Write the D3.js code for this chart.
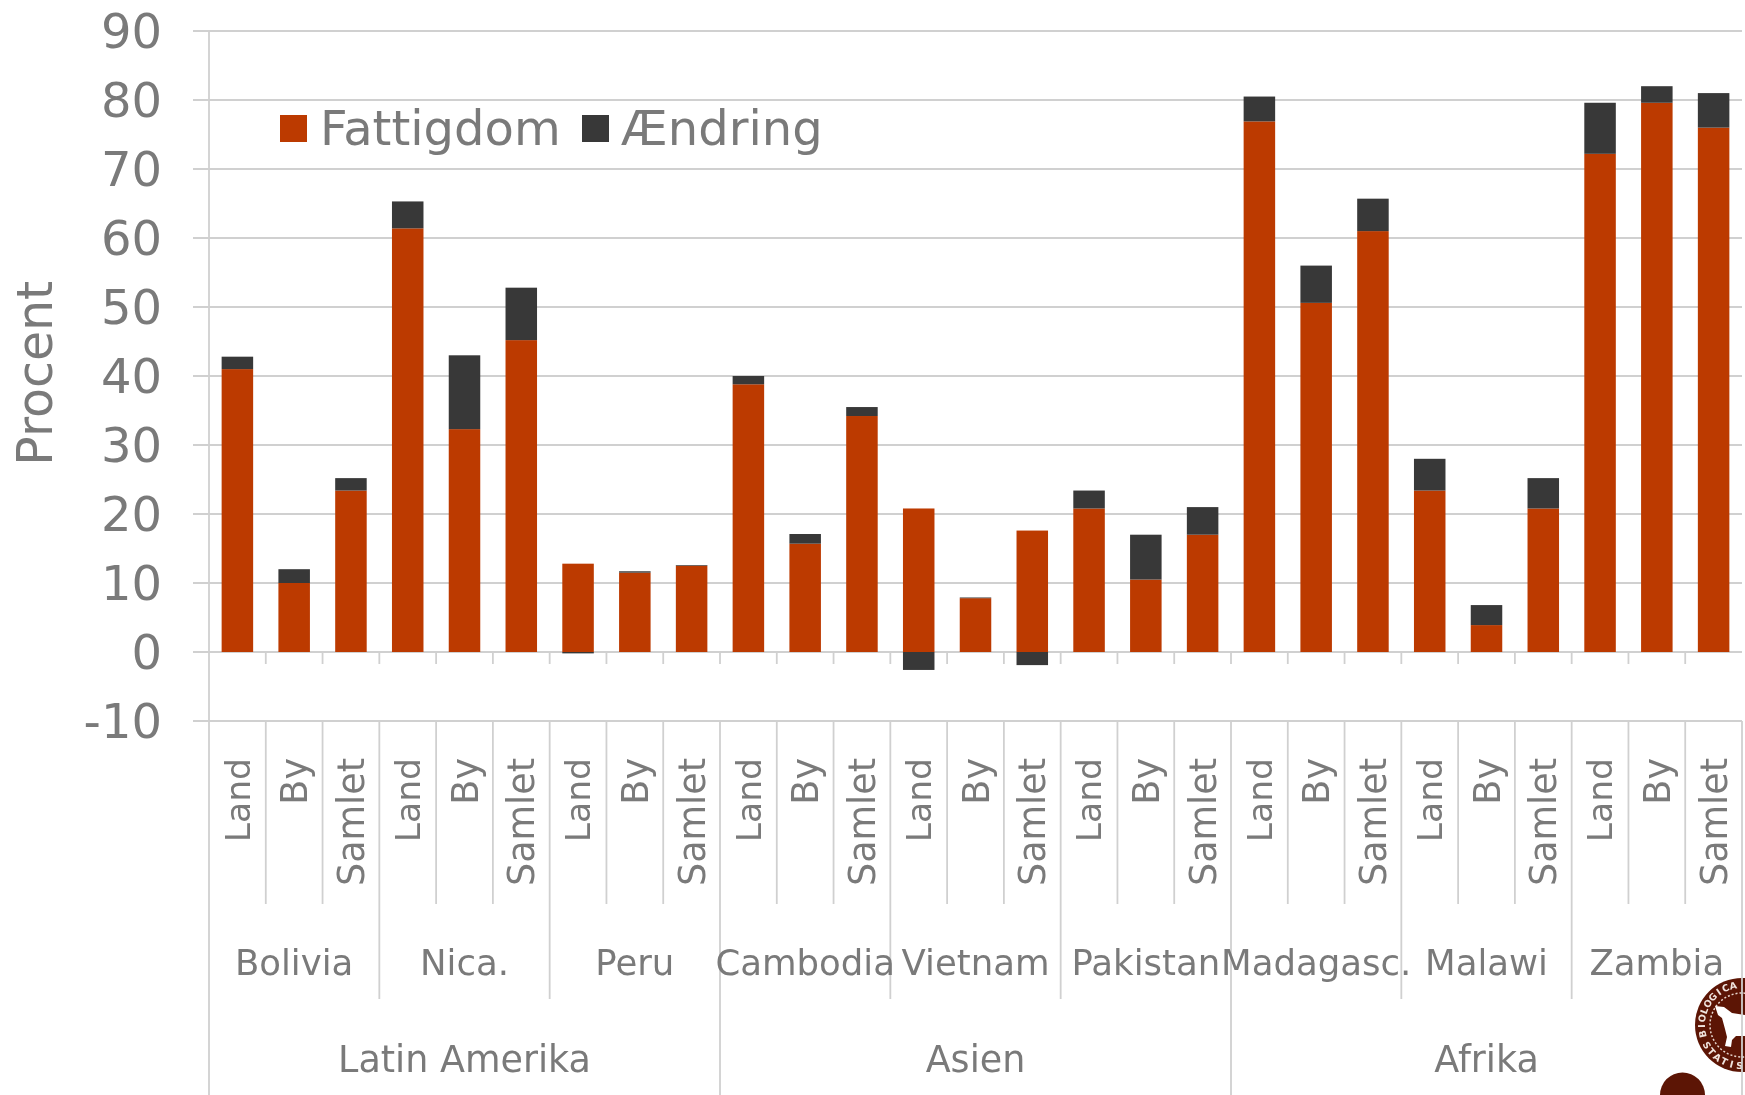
<!DOCTYPE html>
<html><head><meta charset="utf-8">
<script src="https://cdn.jsdelivr.net/npm/d3@7/dist/d3.min.js"></script>
<style>html,body{margin:0;background:#fff}svg{display:block;filter:blur(0.75px)}text{font-family:"DejaVu Sans",sans-serif;fill:#7a7a7a}</style>
</head><body><div id="c"></div>
<script>
const levels = ["Land","By","Samlet"];
const countries = ["Bolivia","Nica.","Peru","Cambodia","Vietnam","Pakistan","Madagasc.","Malawi","Zambia"];
const regions = ["Latin Amerika","Asien","Afrika"];
const fattigdom = [41,10,23.4, 61.4,32.3,45.2, 12.8,11.5,12.5, 38.8,15.7,34.2, 20.8,7.8,17.6, 20.8,10.5,17, 76.9,50.6,61, 23.4,3.9,20.8, 72.2,79.6,76];
const aendring = [1.8,2,1.8, 3.9,10.7,7.6, -0.2,0.2,0.1, 1.2,1.4,1.3, -2.6,0.1,-1.9, 2.6,6.5,4, 3.6,5.4,4.7, 4.6,2.9,4.4, 7.4,2.4,5];
const yTicks = [-10,0,10,20,30,40,50,60,70,80,90];
const W=1745,H=1095;
const cats = d3.range(27);
const x = d3.scaleBand().domain(cats).range([209,1742]).paddingInner(0.445).paddingOuter(0.2225);
const y = d3.scaleLinear().domain([-10,90]).range([721,31]);
const svg = d3.select("#c").append("svg").attr("width",W).attr("height",H);
const step=x.step();
const edge=i=>209+i*step;
const grid="#d0d0d0", brown="#5c1505";
// gridlines & y labels
svg.append("g").selectAll("line").data(yTicks).join("line")
 .attr("x1",193).attr("x2",1742).attr("y1",d=>y(d)).attr("y2",d=>y(d)).attr("stroke",grid).attr("stroke-width",2);
svg.append("g").selectAll("text").data(yTicks).join("text")
 .attr("x",162).attr("y",d=>y(d)).attr("text-anchor","end").attr("dy","0.36em").attr("font-size",48).text(d=>d);
svg.append("text").attr("transform",`translate(34,${y(40.4)}) rotate(-90)`).attr("text-anchor","middle").attr("dy","0.36em").attr("font-size",49).text("Procent");
// seal (under the axis lines)
const cx=1742, cy=1025;
const seal=svg.append("g");
seal.append("circle").attr("cx",cx).attr("cy",cy).attr("r",47).attr("fill",brown);
seal.append("circle").attr("cx",cx).attr("cy",cy).attr("r",32).attr("fill","none").attr("stroke","#e8d8d0").attr("stroke-width",1.5).attr("stroke-dasharray","2 2");
seal.append("path").attr("d","M1715,1006 L1724,1007 L1732,1013 L1745,1015 L1745,1036 L1736,1036 L1732,1040 L1731,1047 L1725,1046 L1727,1037 L1725,1029 L1722,1018 L1718,1015 Z").attr("fill","#fff");
const sealTop=[..."BIOLOGICA"], sealBottom=[..."STATIS"];
const polar=(deg,r)=>[cx+r*Math.sin(deg*Math.PI/180), cy-r*Math.cos(deg*Math.PI/180)];
seal.append("g").selectAll("text").data(sealTop).join("text")
 .style("fill","#f0e4de").attr("font-size",9.5).attr("font-weight","bold").attr("text-anchor","middle")
 .attr("transform",(d,i)=>{const a=-103+i*11.3,p=polar(a,37);return `translate(${p[0]},${p[1]}) rotate(${a})`;}).text(d=>d);
seal.append("g").selectAll("text").data(sealBottom).join("text")
 .style("fill","#f0e4de").attr("font-size",9.5).attr("font-weight","bold").attr("text-anchor","middle")
 .attr("transform",(d,i)=>{const a=240-i*11.3,p=polar(a,44);return `translate(${p[0]},${p[1]}) rotate(${a-180})`;}).text(d=>d);
svg.append("circle").attr("cx",1682.5).attr("cy",1095).attr("r",22.5).attr("fill",brown);
// axis lines
const lines=svg.append("g").attr("stroke",grid).attr("stroke-width",1.8);
lines.append("line").attr("x1",209).attr("x2",209).attr("y1",y(90)).attr("y2",H);
lines.append("line").attr("x1",edge(27)).attr("x2",edge(27)).attr("y1",y(-10)).attr("y2",H);
cats.slice(1).forEach(i=>{
  const bottom = i%9===0?H:(i%3===0?999:904);
  lines.append("line").attr("x1",edge(i)).attr("x2",edge(i)).attr("y1",y(-10)).attr("y2",bottom);
  lines.append("line").attr("x1",edge(i)).attr("x2",edge(i)).attr("y1",y(0)).attr("y2",y(0)+12);
});
// bars
const barG=svg.append("g");
barG.selectAll("rect.f").data(cats).join("rect").attr("class","f")
 .attr("x",i=>x(i)).attr("width",x.bandwidth()).attr("y",i=>y(fattigdom[i])).attr("height",i=>y(0)-y(fattigdom[i])).attr("fill","#bc3a00");
barG.selectAll("rect.a").data(cats).join("rect").attr("class","a")
 .attr("x",i=>x(i)).attr("width",x.bandwidth())
 .attr("y",i=>aendring[i]>=0?y(fattigdom[i]+aendring[i]):y(0))
 .attr("height",i=>Math.abs(y(0)-y(aendring[i])))
 .attr("fill","#383838");
// category labels
svg.append("g").selectAll("text").data(cats).join("text")
 .attr("transform",i=>`translate(${x(i)+x.bandwidth()/2},758) rotate(-90)`)
 .attr("text-anchor","end").attr("dy","0.36em").attr("font-size",i=>i%3===0?34.5:36.5).text(i=>levels[i%3]);
svg.append("g").selectAll("text").data(countries).join("text")
 .attr("x",(d,i)=>edge(i*3+1.5)).attr("y",975).attr("text-anchor","middle").attr("font-size",35.5).text(d=>d);
svg.append("g").selectAll("text").data(regions).join("text")
 .attr("x",(d,i)=>edge(i*9+4.5)).attr("y",1072).attr("text-anchor","middle").attr("font-size",36.5).text(d=>d);
// legend
const legend=[["Fattigdom","#bc3a00",280,320],["Ændring","#383838",582,621]];
legend.forEach(l=>{
 svg.append("rect").attr("x",l[2]).attr("y",115).attr("width",27).attr("height",27).attr("fill",l[1]);
 svg.append("text").attr("x",l[3]).attr("y",145).attr("font-size",48).text(l[0]);
});
</script></body></html>
